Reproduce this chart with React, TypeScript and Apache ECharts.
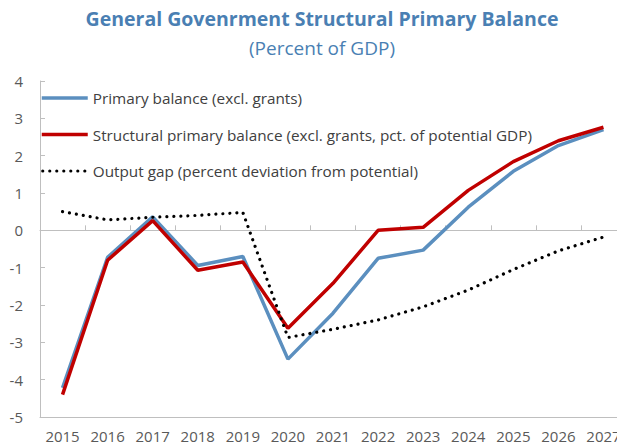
import React, { useEffect, useRef } from "react";
import * as echarts from "echarts";

const years = ["2015", "2016", "2017", "2018", "2019", "2020", "2021", "2022", "2023", "2024", "2025", "2026", "2027"];
const primaryBalance = [-4.22, -0.72, 0.36, -0.94, -0.7, -3.45, -2.22, -0.75, -0.53, 0.62, 1.58, 2.27, 2.7];
const structuralPrimaryBalance = [-4.4, -0.8, 0.26, -1.07, -0.85, -2.62, -1.42, 0.0, 0.08, 1.07, 1.84, 2.4, 2.76];
const outputGap = [0.5, 0.28, 0.35, 0.4, 0.48, -2.87, -2.65, -2.4, -2.05, -1.6, -1.05, -0.55, -0.18];
const seriesNames = [
  "Primary balance (excl. grants)",
  "Structural primary balance (excl. grants, pct. of potential GDP)",
  "Output gap (percent deviation from potential)",
];
const titleText = "General Govenrment Structural Primary Balance";
const subtitleText = "(Percent of GDP)";

const FONT = "'Open Sans', 'Noto Sans', sans-serif";

export default function App() {
  const ref = useRef<HTMLDivElement>(null);
  useEffect(() => {
    if (!ref.current) return;
    const chart = echarts.init(ref.current, null, { renderer: "svg" });
    chart.setOption({
      animation: false,
      backgroundColor: "#ffffff",
      textStyle: { fontFamily: FONT },
      graphic: [
        {
          type: "text",
          x: 322,
          y: 18,
          style: {
            text: titleText,
            fontFamily: FONT,
            fontSize: 19.5,
            fontWeight: "bold",
            fill: "#4a7fb3",
            textAlign: "center",
            textVerticalAlign: "middle",
          },
        },
        {
          type: "text",
          x: 322,
          y: 48,
          style: {
            text: subtitleText,
            fontFamily: FONT,
            fontSize: 19,
            fill: "#4a7fb3",
            textAlign: "center",
            textVerticalAlign: "middle",
          },
        },
      ],
      legend: {
        orient: "vertical",
        left: 35,
        top: 83,
        itemWidth: 46,
        itemHeight: 14,
        itemGap: 16.5,
        itemStyle: { opacity: 0 },
        textStyle: { fontFamily: FONT, fontSize: 15.3, color: "#404040", lineHeight: 20 },
        data: [
          { name: seriesNames[0], lineStyle: { width: 3.5 } },
          { name: seriesNames[1], lineStyle: { width: 3.5 } },
          { name: seriesNames[2], lineStyle: { width: 3.2, cap: "round", type: [0.01, 7], dashOffset: -1.5 } },
        ],
      },
      grid: { left: 40, width: 586, top: 81, bottom: 29, containLabel: false, outerBoundsMode: "none" },
      xAxis: [
        {
          type: "category",
          data: years,
          position: "bottom",
          boundaryGap: true,
          axisLine: { onZero: false, lineStyle: { color: "#bfbfbf", width: 1 } },
          axisTick: { show: false },
          axisLabel: { interval: 0, color: "#595959", fontSize: 15, fontFamily: FONT, margin: 11 },
          splitLine: { show: false },
        },
        {
          type: "category",
          data: years,
          position: "top",
          boundaryGap: true,
          axisLine: { onZero: true, lineStyle: { color: "#bfbfbf", width: 1 } },
          axisTick: { show: true, inside: false, length: 5, lineStyle: { color: "#bfbfbf" } },
          axisLabel: { show: false },
          splitLine: { show: false },
        },
      ],
      yAxis: {
        type: "value",
        min: -5,
        max: 4,
        interval: 1,
        axisLine: { show: true, lineStyle: { color: "#bfbfbf", width: 1 } },
        axisTick: { show: true, inside: true, length: 5, lineStyle: { color: "#bfbfbf" } },
        axisLabel: { color: "#595959", fontSize: 15, fontFamily: FONT, margin: 17 },
        splitLine: { show: false },
      },
      series: [
        {
          name: seriesNames[0],
          type: "line",
          data: primaryBalance,
          symbol: "none",
          lineStyle: { color: "#5b8fbf", width: 3.5 },
          itemStyle: { color: "#5b8fbf" },
          z: 2,
        },
        {
          name: seriesNames[1],
          type: "line",
          data: structuralPrimaryBalance,
          symbol: "none",
          lineStyle: { color: "#c00000", width: 3.5 },
          itemStyle: { color: "#c00000" },
          z: 3,
        },
        {
          name: seriesNames[2],
          type: "line",
          data: outputGap,
          symbol: "none",
          lineStyle: { color: "#000000", width: 3.2, cap: "round", type: [0.01, 7] },
          itemStyle: { color: "#000000" },
          z: 4,
        },
      ],
    });
    return () => chart.dispose();
  }, []);
  return <div ref={ref} style={{ width: 617, height: 446, position: "absolute", left: 0, top: 0 }} />;
}
